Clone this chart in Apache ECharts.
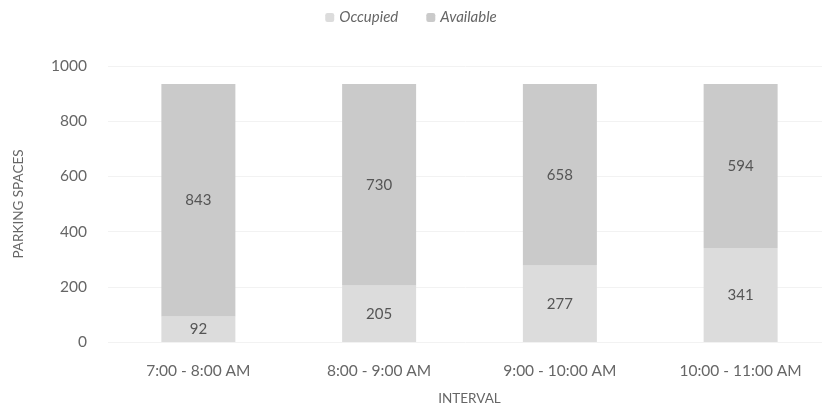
<!DOCTYPE html>
<html>
<head>
<meta charset="utf-8">
<script src="https://cdn.jsdelivr.net/npm/echarts@6/dist/echarts.min.js"></script>
<style>html,body{margin:0;padding:0;background:#fff}#c{width:822px;height:417px}</style>
</head>
<body>
<div id="c"></div>
<script>
var categories = ['7:00 - 8:00 AM', '8:00 - 9:00 AM', '9:00 - 10:00 AM', '10:00 - 11:00 AM'];
var occupied = [92, 205, 277, 341];
var available = [843, 730, 658, 594];
var yTicks = { min: 0, max: 1000, interval: 200 };

var FONT = 'Lato';
var chart = echarts.init(document.getElementById('c'), null, { renderer: 'canvas' });
var lbl = { show: true, position: 'inside', color: '#555', fontFamily: FONT, fontSize: 15 };
chart.setOption({
  animation: false,
  backgroundColor: '#fff',
  textStyle: { fontFamily: FONT },
  legend: {
    top: 5, left: 'center',
    itemWidth: 9, itemHeight: 9, itemGap: 28,
    textStyle: { color: '#666', fontStyle: 'italic', fontSize: 15, fontFamily: FONT },
    data: ['Occupied', 'Available']
  },
  grid: { left: 108, width: 723, top: 66, bottom: 75, outerBoundsMode: 'none', containLabel: false },
  xAxis: {
    type: 'category', data: categories,
    axisLine: { show: false }, axisTick: { show: false },
    axisLabel: { color: '#666', fontSize: 15.5, margin: 21, fontFamily: FONT },
    name: 'INTERVAL', nameLocation: 'middle', nameGap: 50,
    nameTextStyle: { color: '#666', fontSize: 13.5, fontFamily: FONT }
  },
  yAxis: {
    type: 'value', min: yTicks.min, max: yTicks.max, interval: yTicks.interval,
    axisLine: { show: false }, axisTick: { show: false },
    axisLabel: { color: '#666', fontSize: 15.5, margin: 21, fontFamily: FONT, formatter: function (v) { return String(v); } },
    splitLine: { lineStyle: { color: '#f2f2f2', width: 1 } },
    name: 'PARKING SPACES', nameLocation: 'middle', nameGap: 82, nameRotate: 90,
    nameTextStyle: { color: '#666', fontSize: 13.5, fontFamily: FONT }
  },
  series: [
    { name: 'Occupied', type: 'bar', stack: 't', barWidth: 74, data: occupied,
      itemStyle: { color: '#dcdcdc' }, label: lbl },
    { name: 'Available', type: 'bar', stack: 't', barWidth: 74, data: available,
      itemStyle: { color: '#cacaca' }, label: lbl }
  ]
});
</script>
</body>
</html>
